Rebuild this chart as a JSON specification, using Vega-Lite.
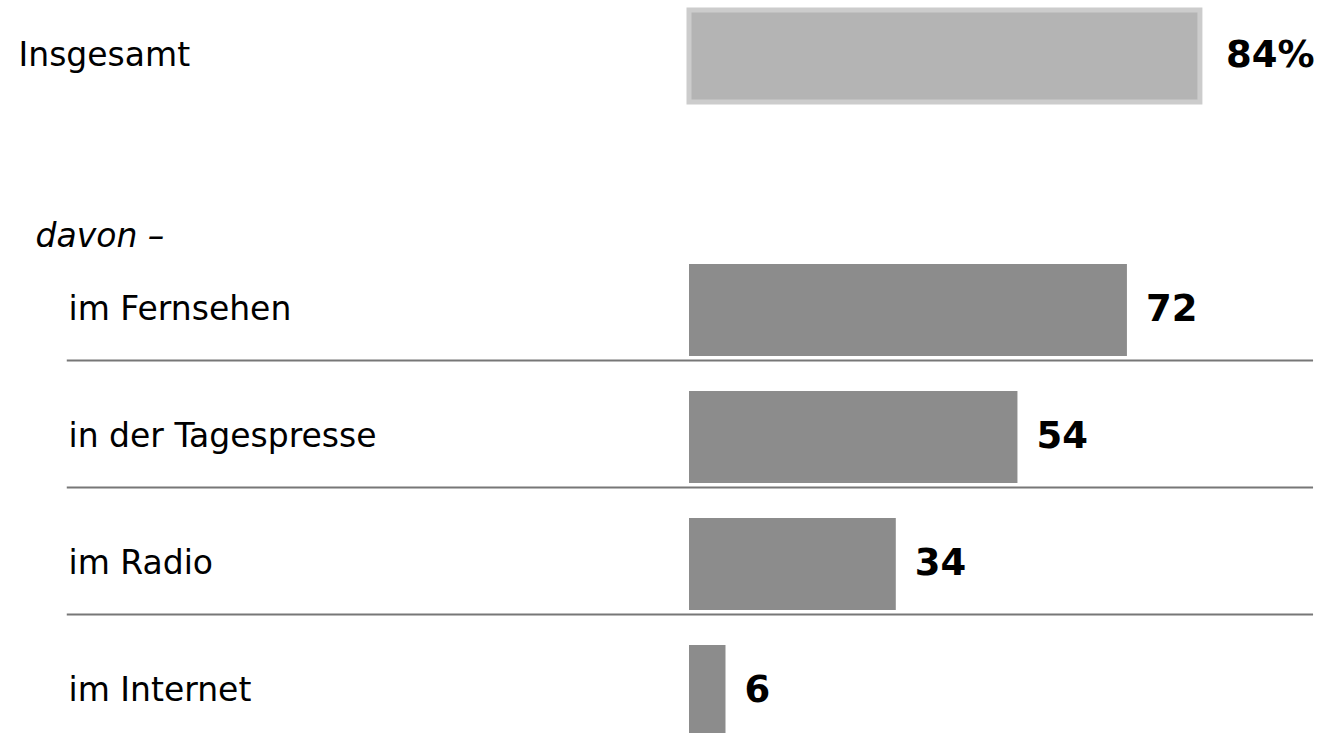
{
  "$schema": "https://vega.github.io/schema/vega-lite/v6.json",
  "width": 635,
  "height": 733,
  "autosize": {"type": "none"},
  "padding": {"left": 689, "top": 0, "right": 0, "bottom": 0},
  "background": "white",
  "config": {"view": {"stroke": null}},
  "data": {
    "values": [
      {"label": "Insgesamt", "value": 84, "text": "84%", "group": "total"},
      {"label": "im Fernsehen", "value": 72, "text": "72", "group": "medium"},
      {"label": "in der Tagespresse", "value": 54, "text": "54", "group": "medium"},
      {"label": "im Radio", "value": 34, "text": "34", "group": "medium"},
      {"label": "im Internet", "value": 6, "text": "6", "group": "medium"}
    ]
  },
  "encoding": {
    "y": {
      "field": "label",
      "type": "nominal",
      "sort": null,
      "scale": {
        "domain": ["Insgesamt", "davon –", "im Fernsehen", "in der Tagespresse", "im Radio", "im Internet"],
        "range": [-7.5, 754.5],
        "paddingInner": 0.275,
        "paddingOuter": 0.1375
      },
      "axis": {
        "title": null,
        "domain": false,
        "ticks": false,
        "tickSize": 0,
        "labelAlign": "left",
        "labelBaseline": "middle",
        "labelFont": "DejaVu Sans",
        "labelFontSize": 33,
        "labelColor": "#000000",
        "labelLimit": 700,
        "labelOverlap": false,
        "labelBound": false,
        "labelPadding": {
          "condition": [
            {"test": "datum.value === 'Insgesamt'", "value": 671},
            {"test": "datum.value === 'davon –'", "value": 654}
          ],
          "value": 621
        },
        "labelOffset": {
          "condition": {"test": "datum.value === 'davon –'", "value": 54},
          "value": 0
        },
        "labelFontStyle": {
          "condition": {"test": "datum.value === 'davon –'", "value": "italic"},
          "value": "normal"
        }
      }
    }
  },
  "layer": [
    {
      "mark": {"type": "bar", "stroke": "#cccccc"},
      "encoding": {
        "x": {
          "field": "value",
          "type": "quantitative",
          "scale": {"domain": [0, 104.4], "nice": false, "zero": true},
          "axis": null
        },
        "color": {
          "field": "group",
          "type": "nominal",
          "scale": {"domain": ["total", "medium"], "range": ["#b4b4b4", "#8c8c8c"]},
          "legend": null
        },
        "strokeWidth": {
          "condition": {"test": "datum.group === 'total'", "value": 5},
          "value": 0
        }
      }
    },
    {
      "transform": [
        {"filter": "datum.group === 'medium' && datum.label !== 'im Internet'"}
      ],
      "mark": {"type": "rule", "stroke": "#777777", "strokeWidth": 2, "yOffset": 4.5},
      "encoding": {
        "y": {"field": "label", "type": "nominal", "sort": null, "bandPosition": 1},
        "x": {"datum": -102.3},
        "x2": {"datum": 102.6}
      }
    },
    {
      "transform": [{"filter": "datum.group === 'medium'"}],
      "mark": {
        "type": "text",
        "align": "left",
        "baseline": "middle",
        "dx": 19,
        "font": "DejaVu Sans",
        "fontSize": 37,
        "fontWeight": "bold",
        "color": "#000000"
      },
      "encoding": {
        "x": {"field": "value", "type": "quantitative"},
        "text": {"field": "text", "type": "nominal"}
      }
    },
    {
      "transform": [{"filter": "datum.group === 'total'"}],
      "mark": {
        "type": "text",
        "align": "left",
        "baseline": "middle",
        "dx": 26,
        "font": "DejaVu Sans",
        "fontSize": 37,
        "fontWeight": "bold",
        "color": "#000000"
      },
      "encoding": {
        "x": {"field": "value", "type": "quantitative"},
        "text": {"field": "text", "type": "nominal"}
      }
    }
  ]
}
